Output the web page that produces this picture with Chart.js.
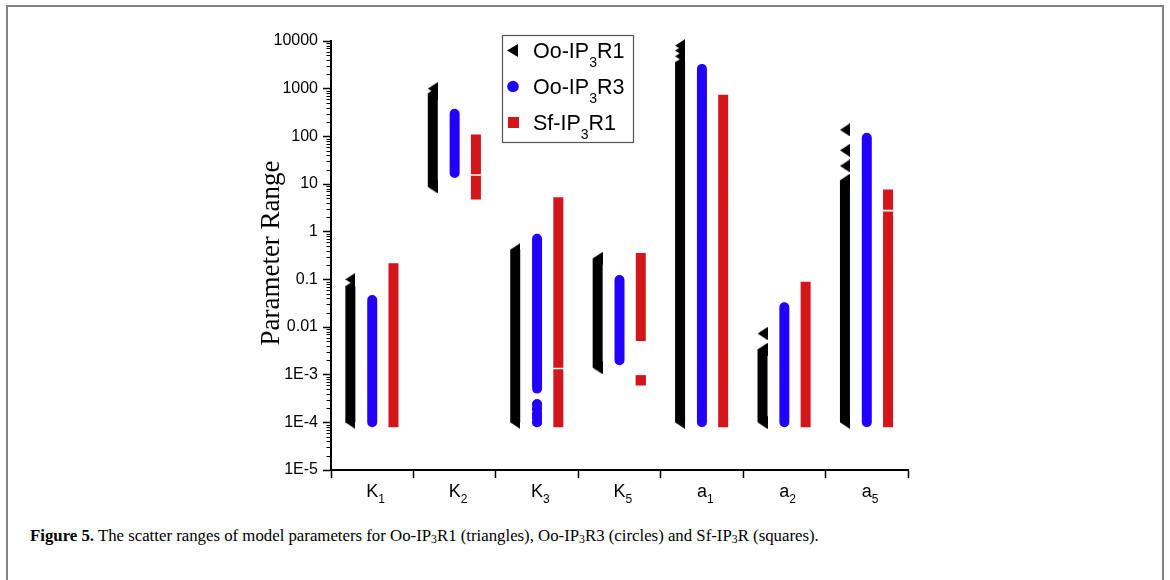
<!DOCTYPE html>
<html>
<head>
<meta charset="utf-8">
<script src="https://cdn.jsdelivr.net/npm/chart.js@4.4.0/dist/chart.umd.min.js"></script>
<style>
	html, body { margin: 0; padding: 0; background: #fff; }
	body { width: 1170px; height: 580px; position: relative; overflow: hidden; }
	.frame { position: absolute; left: 6px; top: 5px; width: 1154px; height: 640px; border: 2px solid #808080; }
	#plot { position: absolute; left: 0; top: 0; }
	.caption { position: absolute; left: 30px; top: 526px; font-family: "Liberation Serif", serif; font-size: 16.8px; color: #000; white-space: nowrap; }
	.caption sub { font-size: 0.7em; vertical-align: -0.2em; line-height: 0; }
</style>
</head>
<body>
<div class="frame"></div>
<canvas id="plot" width="1170" height="515"></canvas>
<div class="caption"><b>Figure 5.</b> The scatter ranges of model parameters for Oo-IP<sub>3</sub>R1 (triangles), Oo-IP<sub>3</sub>R3 (circles) and Sf-IP<sub>3</sub>R (squares).</div>
<script>
// parameters on the x axis (letter + subscript)
var categories = ['K', 'K', 'K', 'K', 'a', 'a', 'a'];
var categorySubs = ['1', '2', '3', '5', '1', '2', '5'];

var yTickValues = [1e-5, 1e-4, 1e-3, 1e-2, 1e-1, 1, 10, 100, 1000, 10000];
var yTickLabels = ['1E-5', '1E-4', '1E-3', '0.01', '0.1', '1', '10', '100', '1000', '10000'];

// legend names: [text, subscript, text]
var seriesNames = [['Oo-IP', '3', 'R1'], ['Oo-IP', '3', 'R3'], ['Sf-IP', '3', 'R1']];

// each parameter: continuous runs [low, high] of points and isolated points
var r1Runs = [[[1e-4, 0.072]], [[8.7, 800]], [[1e-4, 0.42]], [[1.4e-3, 0.275]], [[1e-4, 3600]], [[1e-4, 3.4e-3]], [[1e-4, 12]]];
var r1Singles = [[0.1], [1000], [], [], [4800, 6300, 8000], [7.3e-3], [24, 51, 137]];

var r3Runs = [[[1e-4, 0.037]], [[17, 296]], [[5.1e-4, 0.71]], [[2e-3, 0.097]], [[1e-4, 2600]], [[1e-4, 0.026]], [[1e-4, 93]]];
var r3Singles = [[], [], [1e-4, 1.25e-4, 1.5e-4, 1.9e-4, 2.4e-4], [], [], [], []];

var sfRuns = [[[1e-4, 0.17]], [[6, 11.7], [20.5, 86]], [[1e-4, 1.02e-3], [1.78e-3, 4.15]], [[6.5e-3, 0.28]], [[1e-4, 585]], [[1e-4, 0.07]], [[1e-4, 2.09], [3.65, 6.0]]];
var sfSingles = [[], [], [], [7.6e-4], [], [], []];

var colors = ['#000000', '#2200ff', '#d2161c'];
var shifts = [-0.265, 0, 0.258];

// left pointing triangle marker
var tri = document.createElement('canvas');
tri.width = 10;
tri.height = 13;
var tc = tri.getContext('2d');
tc.fillStyle = '#000';
tc.beginPath();
tc.moveTo(0, 6.5);
tc.lineTo(10, 0);
tc.lineTo(10, 13);
tc.closePath();
tc.fill();

function buildPoints(runs, singles, shift) {
	var pts = [];
	runs.forEach(function (list, i) {
		var x = i + 0.5 + shift;
		list.forEach(function (r) {
			pts.push({x: x, y: r[0]}, {x: x, y: r[1]}, {x: x, y: null});
		});
		singles[i].forEach(function (v) {
			pts.push({x: x, y: v, single: true}, {x: x, y: null});
		});
	});
	return pts;
}

function series(runs, singles, idx, style, radius, cap, allPoints) {
	return {
		data: buildPoints(runs, singles, shifts[idx]),
		borderColor: colors[idx],
		backgroundColor: colors[idx],
		borderWidth: 10,
		borderCapStyle: cap,
		pointStyle: style,
		pointRadius: function (c) {
			return (allPoints || (c.raw && c.raw.single)) ? radius : 0;
		},
		pointBorderWidth: 0,
		pointBackgroundColor: colors[idx],
		spanGaps: false,
		clip: false
	};
}

function drawSubText(ctx, parts, x, y, size, subSize, subDrop, align) {
	ctx.font = size + 'px "Liberation Sans", Arial, sans-serif';
	var w0 = ctx.measureText(parts[0]).width;
	ctx.font = subSize + 'px "Liberation Sans", Arial, sans-serif';
	var w1 = ctx.measureText(parts[1]).width;
	var sx = align === 'center' ? x - w0 / 2 : x;
	ctx.textAlign = 'left';
	ctx.textBaseline = 'alphabetic';
	ctx.font = size + 'px "Liberation Sans", Arial, sans-serif';
	ctx.fillText(parts[0], sx, y);
	ctx.font = subSize + 'px "Liberation Sans", Arial, sans-serif';
	ctx.fillText(parts[1], sx + w0, y + subDrop);
	if (parts[2]) {
		ctx.font = size + 'px "Liberation Sans", Arial, sans-serif';
		ctx.fillText(parts[2], sx + w0 + w1, y);
	}
}

var decor = {
	id: 'decor',
	afterDraw: function (chart) {
		var ctx = chart.ctx;
		var ys = chart.scales.y, xs = chart.scales.x;
		var area = chart.chartArea;
		ctx.save();
		ctx.fillStyle = '#000';
		ctx.strokeStyle = '#000';

		// minor ticks
		ctx.lineWidth = 1;
		for (var e = -5; e < 4; e++) {
			for (var k = 2; k < 10; k++) {
				var py = Math.round(ys.getPixelForValue(k * Math.pow(10, e))) + 0.5;
				ctx.beginPath();
				ctx.moveTo(area.left - 4.5, py);
				ctx.lineTo(area.left, py);
				ctx.stroke();
			}
		}

		// category labels
		categories.forEach(function (c, i) {
			drawSubText(ctx, [c, categorySubs[i]], xs.getPixelForValue(i + 0.5), 497, 18, 12, 6, 'center');
		});

		// y title
		ctx.save();
		ctx.translate(279, 253);
		ctx.rotate(-Math.PI / 2);
		ctx.font = '27px "Liberation Serif", "Times New Roman", serif';
		ctx.textAlign = 'center';
		ctx.textBaseline = 'alphabetic';
		ctx.fillText('Parameter Range', 0, 0);
		ctx.restore();

		// legend
		ctx.lineWidth = 1.2;
		ctx.strokeStyle = '#555';
		ctx.strokeRect(502.5, 35.5, 131, 107);
		var base = [58, 94, 130];
		seriesNames.forEach(function (n, i) {
			var my = base[i] - 7.5;
			ctx.fillStyle = colors[i];
			if (i === 0) {
				ctx.beginPath();
				ctx.moveTo(507, my);
				ctx.lineTo(518, my - 6.5);
				ctx.lineTo(518, my + 6.5);
				ctx.closePath();
				ctx.fill();
			} else if (i === 1) {
				ctx.beginPath();
				ctx.arc(513, my, 5.8, 0, Math.PI * 2);
				ctx.fill();
			} else {
				ctx.fillRect(508, my - 5.5, 11, 11);
			}
			ctx.fillStyle = '#000';
			drawSubText(ctx, n, 533, base[i], 21.5, 14, 8.5, 'left');
		});
		ctx.restore();
	}
};

var chart = new Chart(document.getElementById('plot'), {
	type: 'line',
	data: {
		datasets: [
			series(r1Runs, r1Singles, 0, tri, 6, 'butt', true),
			series(r3Runs, r3Singles, 1, 'circle', 5, 'round', false),
			series(sfRuns, sfSingles, 2, 'rect', 7.07, 'square', false)
		]
	},
	options: {
		responsive: false,
		animation: false,
		events: [],
		devicePixelRatio: 1,
		layout: { padding: { left: 0, top: 41, right: 262, bottom: 37 } },
		plugins: { legend: { display: false }, tooltip: { enabled: false } },
		scales: {
			x: {
				type: 'linear',
				min: 0,
				max: 7,
				afterBuildTicks: function (s) {
					s.ticks = [0, 1, 2, 3, 4, 5, 6, 7].map(function (v) { return {value: v}; });
				},
				afterFit: function (s) { s.height = 8; },
				ticks: { display: false },
				grid: { drawOnChartArea: false, tickLength: 8, tickColor: '#000', tickWidth: 1.5 },
				border: { color: '#000', width: 2 }
			},
			y: {
				type: 'logarithmic',
				min: 1e-5,
				max: 1e4,
				afterBuildTicks: function (s) {
					s.ticks = yTickValues.map(function (v) { return {value: v}; });
				},
				afterFit: function (s) { s.width = 331; },
				ticks: {
					autoSkip: false,
					padding: 5,
					color: '#000',
					font: { family: '"Liberation Sans", Arial, sans-serif', size: 16 },
					callback: function (v, i) { return yTickLabels[i]; }
				},
				grid: { drawOnChartArea: false, tickLength: 8, tickColor: '#000', tickWidth: 1.5 },
				border: { color: '#000', width: 2 }
			}
		}
	},
	plugins: [decor]
});
</script>
</body>
</html>
